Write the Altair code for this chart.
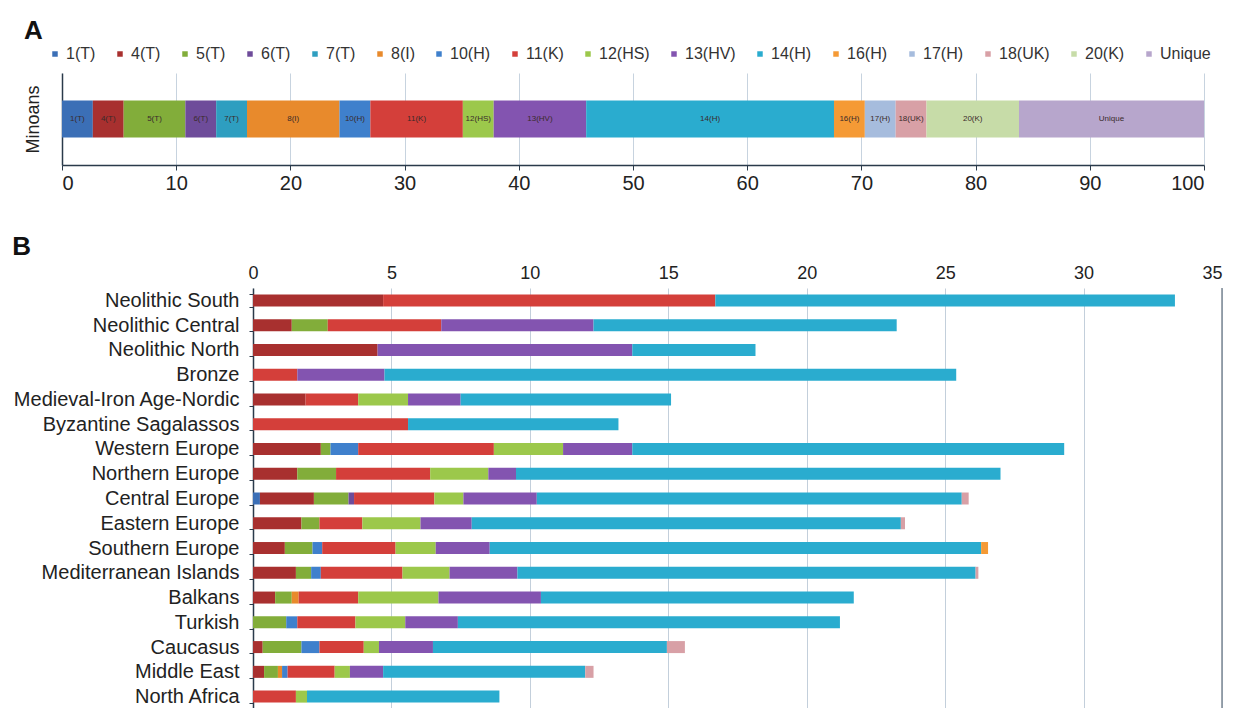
import altair as alt
import pandas as pd

FONT = "Liberation Sans"

# ---------------- data ----------------
HAPLO = ["1(T)", "4(T)", "5(T)", "6(T)", "7(T)", "8(I)", "10(H)", "11(K)",
         "12(HS)", "13(HV)", "14(H)", "16(H)", "17(H)", "18(UK)", "20(K)", "Unique"]
COLORS = ["#3B6FB6", "#A8302F", "#82AD3A", "#6E4C9A", "#2E9EC0", "#E88A2C",
          "#3F80CC", "#D43F3A", "#9CC84B", "#8354B0", "#2AACCF", "#F59A35",
          "#A6BCDD", "#D8A0A6", "#C7DCA8", "#B7A6CC"]

# Panel A: Minoan haplogroup percentages
MINOAN_PCT = [2.7, 2.7, 5.4, 2.7, 2.7, 8.1, 2.7, 8.1, 2.7, 8.1, 21.7, 2.7, 2.7, 2.7, 8.1, 16.2]

# Panel B: populations and per-haplogroup segment lengths
POPS = ["Neolithic South", "Neolithic Central", "Neolithic North", "Bronze",
        "Medieval-Iron Age-Nordic", "Byzantine Sagalassos", "Western Europe",
        "Northern Europe", "Central Europe", "Eastern Europe", "Southern Europe",
        "Mediterranean Islands", "Balkans", "Turkish", "Caucasus", "Middle East",
        "North Africa"]
B_1T = [0, 0, 0, 0, 0, 0, 0, 0, 0.25, 0, 0, 0, 0, 0, 0, 0, 0]
B_4T = [4.7, 1.4, 4.5, 0, 1.9, 0, 2.45, 1.6, 1.95, 1.75, 1.15, 1.55, 0.8, 0, 0.35, 0.4, 0]
B_5T = [0, 1.3, 0, 0, 0, 0, 0.35, 1.4, 1.25, 0.65, 1.0, 0.55, 0.6, 1.2, 1.4, 0.5, 0]
B_6T = [0, 0, 0, 0, 0, 0, 0, 0, 0.2, 0, 0, 0, 0, 0, 0, 0, 0]
B_8I = [0, 0, 0, 0, 0, 0, 0, 0, 0, 0, 0, 0, 0.25, 0, 0, 0.15, 0]
B_10H = [0, 0, 0, 0, 0, 0, 1.0, 0, 0, 0, 0.35, 0.35, 0, 0.4, 0.65, 0.2, 0]
B_11K = [12.0, 4.1, 0, 1.6, 1.9, 5.6, 4.9, 3.4, 2.9, 1.55, 2.65, 2.95, 2.15, 2.1, 1.6, 1.7, 1.55]
B_12HS = [0, 0, 0, 0, 1.8, 0, 2.5, 2.1, 1.05, 2.1, 1.45, 1.7, 2.9, 1.8, 0.55, 0.55, 0.4]
B_13HV = [0, 5.5, 9.2, 3.15, 1.9, 0, 2.5, 1.0, 2.65, 1.85, 1.95, 2.45, 3.7, 1.9, 1.95, 1.2, 0]
B_14H = [16.6, 10.95, 4.45, 20.65, 7.6, 7.6, 15.6, 17.5, 15.35, 15.5, 17.75, 16.55, 11.3, 13.8, 8.45, 7.3, 6.95]
B_16H = [0, 0, 0, 0, 0, 0, 0, 0, 0, 0, 0.25, 0, 0, 0, 0, 0, 0]
B_18UK = [0, 0, 0, 0, 0, 0, 0, 0, 0.25, 0.15, 0, 0.1, 0, 0, 0.65, 0.3, 0]

A_TICKS = [0, 10, 20, 30, 40, 50, 60, 70, 80, 90, 100]
B_TICKS = [0, 5, 10, 15, 20, 25, 30, 35]

# ---------------- layout (pixels) ----------------
A_WIDTH = 1142          # panel A plot width
B_WIDTH = 1160          # panel B plot width (shares left edge with panel A)
B_ZERO_OFFSET = 191     # distance from the shared left edge to B's zero line
B_MAX = B_TICKS[-1]
B_MIN = -B_MAX * B_ZERO_OFFSET / (B_WIDTH - B_ZERO_OFFSET)

# ---------------- tables ----------------
rowsA = []
acc = 0.0
for i, (h, v) in enumerate(zip(HAPLO, MINOAN_PCT)):
    rowsA.append({"group": "Minoans", "hap": h, "order": i, "start": acc, "end": acc + v,
                  "mid": acc + v / 2})
    acc += v
dfA = pd.DataFrame(rowsA)

B_SERIES = {"1(T)": B_1T, "4(T)": B_4T, "5(T)": B_5T, "6(T)": B_6T, "8(I)": B_8I,
            "10(H)": B_10H, "11(K)": B_11K, "12(HS)": B_12HS, "13(HV)": B_13HV,
            "14(H)": B_14H, "16(H)": B_16H, "18(UK)": B_18UK}
rowsB = []
for p, pop in enumerate(POPS):
    acc = 0.0
    for h in HAPLO:
        if h in B_SERIES:
            v = B_SERIES[h][p]
            if v > 0:
                rowsB.append({"pop": pop, "hap": h, "start": acc, "end": acc + v})
                acc += v
dfB = pd.DataFrame(rowsB)

color_scale = alt.Scale(domain=HAPLO, range=COLORS)
no_border = alt.ViewBackground(stroke="transparent", strokeWidth=0)

# ---------------- panel A ----------------
yA = alt.Y("group:N", axis=alt.Axis(title="Minoans", labels=False, ticks=False,
                                    domainColor="#2a3a4a", domainWidth=1.5,
                                    titleFontSize=18, titleFont=FONT, titleFontWeight="normal",
                                    titleColor="#222", titlePadding=20))
xA = alt.X("start:Q", scale=alt.Scale(domain=[0, 100], nice=False),
           axis=alt.Axis(values=A_TICKS, title=None, grid=True, gridColor="#c7d3df",
                         domainColor="#2a3a4a", domainWidth=1.5, tickColor="#2a3a4a",
                         tickSize=5, labelFontSize=20, labelFont=FONT, labelColor="#222",
                         labelPadding=3))

barsA = alt.Chart(dfA).mark_bar(size=37).encode(
    y=yA, x=xA, x2="end:Q",
    color=alt.Color("hap:N", scale=color_scale,
                    legend=alt.Legend(title=None, orient="none", legendX=-15, legendY=-27,
                                      direction="horizontal", columns=16, symbolType="square",
                                      symbolSize=30, symbolStrokeWidth=0, labelFontSize=16,
                                      labelFont=FONT, labelColor="#333", columnPadding=16,
                                      symbolOffset=0, labelOffset=3)),
    order=alt.Order("order:Q"),
)
textA = alt.Chart(dfA).mark_text(fontSize=8, font=FONT, color="#3a2a2a").encode(
    y=yA, x=alt.X("mid:Q"), text="hap:N"
)
panelA = alt.layer(barsA, textA).properties(
    width=A_WIDTH, height=92, view=no_border,
    title=alt.TitleParams("A", anchor="start", frame="bounds", fontSize=26,
                          fontWeight="bold", font=FONT, color="#111", offset=2),
)

# ---------------- panel B ----------------
yB = alt.Y("pop:N", sort=POPS, scale=alt.Scale(paddingInner=0.5, paddingOuter=0.25),
           axis=alt.Axis(title=None, tickBand="extent", labelFontSize=20, labelFont=FONT,
                         labelColor="#222", domainColor="#2a3a4a", domainWidth=1.5,
                         tickColor="#2a3a4a", tickSize=4, labelPadding=10, labelLimit=400,
                         offset=-B_ZERO_OFFSET))
xB = alt.X("start:Q", scale=alt.Scale(domain=[B_MIN, B_MAX], nice=False, zero=False),
           axis=alt.Axis(orient="top", values=B_TICKS, title=None, grid=True,
                         gridColor="#c3cfdb", domain=False, ticks=False,
                         labelFontSize=18, labelFont=FONT, labelColor="#222",
                         labelPadding=6))
barsB = alt.Chart(dfB).mark_bar(size=12).encode(
    y=yB, x=xB, x2="end:Q",
    color=alt.Color("hap:N", scale=color_scale, legend=None),
)
edgeB = alt.Chart(pd.DataFrame({"v": [B_MAX]})).mark_rule(
    color="#7d8995", strokeWidth=1.5).encode(x=alt.X("v:Q"))
panelB = alt.layer(barsB, edgeB).properties(
    width=B_WIDTH, height=421, view=no_border,
    title=alt.TitleParams("B", anchor="start", frame="bounds", fontSize=26,
                          fontWeight="bold", font=FONT, color="#111", offset=4),
)

chart = alt.concat(panelA, panelB, columns=1, spacing=41).resolve_scale(
    color="independent"
).properties(
    padding={"left": 12, "top": 18, "right": 4, "bottom": 0}
).configure_view(stroke="transparent", strokeWidth=0).configure(background="white")

chart.save("out.html", embed_options={"renderer": "svg", "actions": False})
